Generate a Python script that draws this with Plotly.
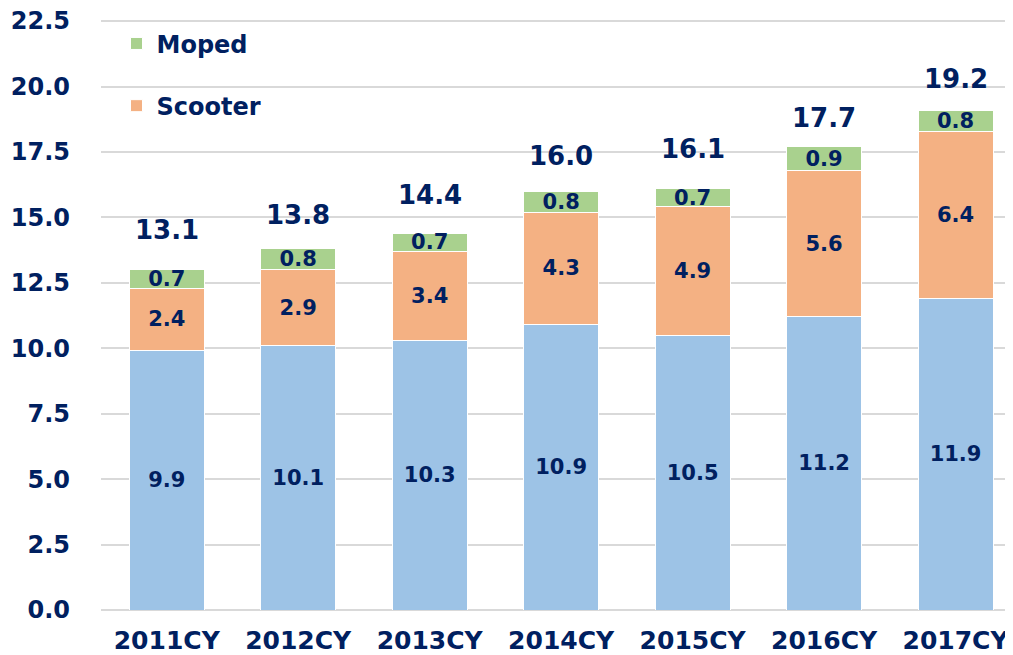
import plotly.graph_objects as go

categories = ["2011CY", "2012CY", "2013CY", "2014CY", "2015CY", "2016CY", "2017CY"]
base_vals = [9.9, 10.1, 10.3, 10.9, 10.5, 11.2, 11.9]
scooter_vals = [2.4, 2.9, 3.4, 4.3, 4.9, 5.6, 6.4]
moped_vals = [0.7, 0.8, 0.7, 0.8, 0.7, 0.9, 0.8]
totals = [13.1, 13.8, 14.4, 16.0, 16.1, 17.7, 19.2]
y_ticks = [0, 2.5, 5, 7.5, 10, 12.5, 15, 17.5, 20, 22.5]

# pixel lift of each total label above its bar (layout only)
total_label_lift = [20, 17, 21, 18, 23, 12, 11]

NAVY = "#002060"
FONT = "DejaVu Sans"
seg_font = dict(family=FONT, size=21, color=NAVY, weight="bold")

fig = go.Figure()
fig.add_bar(x=categories, y=base_vals, name="Other", showlegend=False,
            marker=dict(color="#9DC3E6", line=dict(color="white", width=1)),
            text=[f"{v:.1f}" for v in base_vals], textposition="inside",
            insidetextanchor="middle", constraintext="none", textangle=0,
            textfont=seg_font)
fig.add_bar(x=categories, y=scooter_vals, name="Scooter", legendgroup="s", legendrank=2,
            marker=dict(color="#F4B183", line=dict(color="white", width=1)),
            text=[f"{v:.1f}" for v in scooter_vals], textposition="inside",
            insidetextanchor="middle", constraintext="none", textangle=0,
            textfont=seg_font)
fig.add_bar(x=categories, y=moped_vals, name="Moped", legendgroup="m", legendrank=1,
            marker=dict(color="#A9D18E", line=dict(color="white", width=1)),
            text=[f"{v:.1f}" for v in moped_vals], textposition="inside",
            insidetextanchor="middle", constraintext="none", textangle=0,
            textfont=seg_font)

for c, t, lift in zip(categories, totals, total_label_lift):
    fig.add_annotation(x=c, y=t, text=f"{t:.1f}", showarrow=False,
                       yanchor="bottom", yshift=lift,
                       font=dict(family=FONT, size=26, color=NAVY, weight="bold"))

# the page body has an 8px default margin, so the figure is sized to fit inside it
fig.update_layout(
    width=1005, height=647,
    margin=dict(l=93, r=0, t=11, b=45),
    barmode="stack", bargap=0.43,
    plot_bgcolor="white", paper_bgcolor="white",
    legend=dict(x=0.017, y=0.996, xanchor="left", yanchor="top",
                traceorder="grouped", tracegroupgap=28,
                bgcolor="rgba(0,0,0,0)",
                font=dict(family=FONT, size=24, color=NAVY, weight="bold")),
    xaxis=dict(range=[-0.5, 6.437], showgrid=False, showline=False, automargin=False,
               ticks="", ticklabelstandoff=13,
               tickfont=dict(family=FONT, size=25, color=NAVY, weight="bold")),
    yaxis=dict(range=[0, 22.58], tickvals=y_ticks, tickformat=".1f", automargin=False,
               showgrid=True, gridcolor="#D9D9D9", gridwidth=1.5,
               zeroline=True, zerolinecolor="#D9D9D9", zerolinewidth=2,
               ticks="", ticklabelstandoff=30, ticklabeloverflow="allow",
               tickfont=dict(family=FONT, size=24, color=NAVY, weight="bold")),
)

fig.write_html("out.html")
